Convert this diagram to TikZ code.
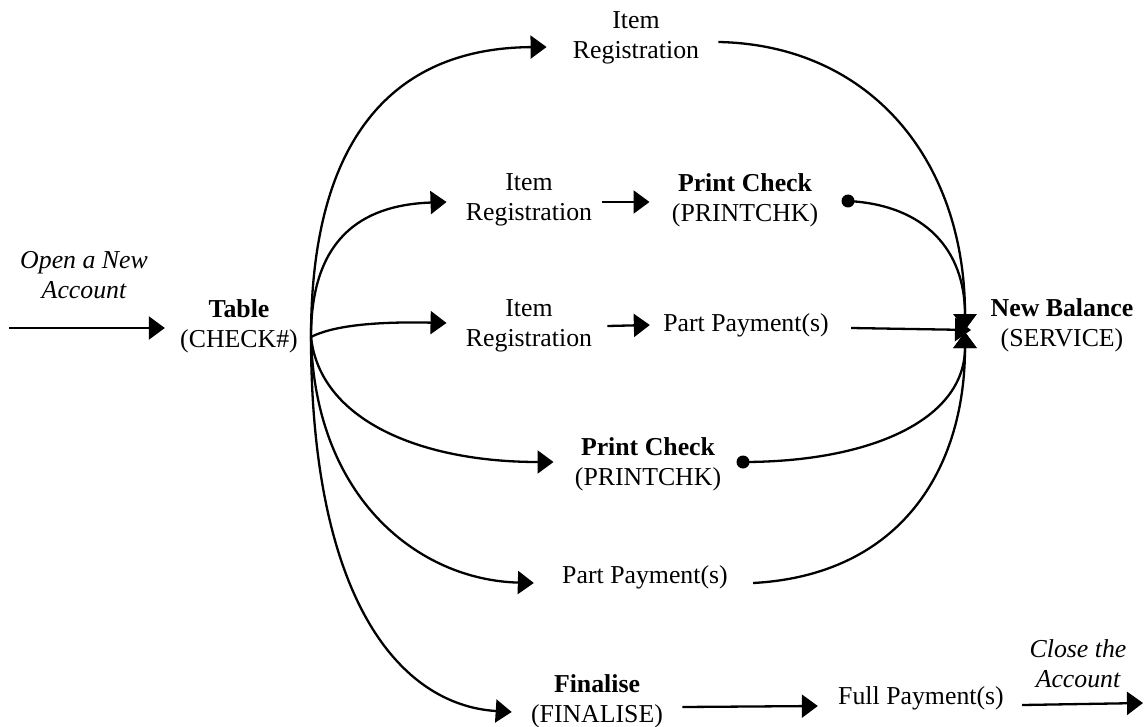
\documentclass[tikz,border=0pt]{standalone}
\usepackage{fontspec}
\setmainfont{Liberation Serif}
\usetikzlibrary{arrows.meta}
\begin{document}
\begin{tikzpicture}[x=0.5pt,y=-0.5pt,
  lbl/.style={inner sep=0pt,align=center,font=\fontsize{12.9}{15}\selectfont},
  arr/.style={line width=1.15pt,-{Triangle[length=8pt,width=11.5pt]}},
  dot/.style={circle,fill=black,inner sep=0pt,minimum size=6.5pt}]
\useasboundingbox (0,0) rectangle (1144,727);
% text nodes
\node[lbl] (open) at (84,275) {\itshape Open a New\\\itshape Account};
\node[lbl] (table) at (239,326) {\textbf{Table}\\(CHECK\#)};
\node[lbl] (ir1) at (636,38) {Item\\Registration};
\node[lbl] (ir2) at (529,200) {Item\\Registration};
\node[lbl] (pc2) at (745,200) {\textbf{Print Check}\\(PRINTCHK)};
\node[lbl] (ir3) at (529,326) {Item\\Registration};
\node[lbl] (pp3) at (746,325) {Part Payment(s)};
\node[lbl] (pc4) at (648,464) {\textbf{Print Check}\\(PRINTCHK)};
\node[lbl] (pp5) at (645,577) {Part Payment(s)};
\node[lbl] (fin) at (597,701) {\textbf{Finalise}\\(FINALISE)};
\node[lbl] (full) at (921,698) {Full Payment(s)};
\node[lbl] (close) at (1078,664) {\itshape Close the\\\itshape Account};
\node[lbl] (nb) at (1062,325) {\textbf{New Balance}\\(SERVICE)};
% ports
\coordinate (in) at (9,328);
\coordinate (src) at (311,337);
\coordinate (out) at (1143,703);
\coordinate (ctop) at (965,330);
\coordinate (cbot) at (965,332);
\coordinate (cmid) at (971,330);
\node[dot] (d2) at (848,201) {};
\node[dot] (d4) at (743,462) {};
% connectors
\draw[arr] (in) -- ([xshift=-7.5pt,yshift=-1pt]table.west);
\draw[arr] (src) .. controls (311,130) and (400,48) .. ([xshift=-13pt,yshift=-4.5pt]ir1.west);
\draw[arr] ([xshift=9.5pt,yshift=-2pt]ir1.east) .. controls (870,45) and (965,160) .. (ctop);
\draw[arr] (src) .. controls (311,240) and (360,205) .. ([xshift=-9.5pt,yshift=-1pt]ir2.west);
\draw[arr] ([xshift=5pt,yshift=-1pt]ir2.east) -- ([xshift=-11pt,yshift=-1pt]pc2.west);
\draw[arr] (d2.center) .. controls (925,205) and (965,250) .. (ctop);
\draw[arr] (src) .. controls (340,322) and (400,322) .. ([xshift=-9.5pt,yshift=1.5pt]ir3.west);
\draw[arr] ([xshift=7.5pt]ir3.east) -- ([xshift=-6.5pt]pp3.west);
\draw[arr] ([xshift=11pt,yshift=-1.5pt]pp3.east) -- (cmid);
\draw[arr] (src) .. controls (320,420) and (420,462) .. ([xshift=-10.5pt,yshift=1pt]pc4.west);
\draw[arr] (d4.center) .. controls (870,462) and (965,420) .. (cbot);
\draw[arr] (src) .. controls (315,500) and (420,580) .. ([xshift=-14pt,yshift=-3pt]pp5.west);
\draw[arr] ([xshift=12.5pt,yshift=-3pt]pp5.east) .. controls (900,575) and (965,470) .. (cbot);
\draw[arr] (src) .. controls (311,600) and (400,705) .. ([xshift=-9.5pt,yshift=-5.5pt]fin.west);
\draw[arr] ([xshift=9.5pt,yshift=-3pt]fin.east) -- ([xshift=-10pt,yshift=-4pt]full.west);
\draw[arr] ([xshift=9pt,yshift=-3.5pt]full.east) -- (out);
\end{tikzpicture}
\end{document}
